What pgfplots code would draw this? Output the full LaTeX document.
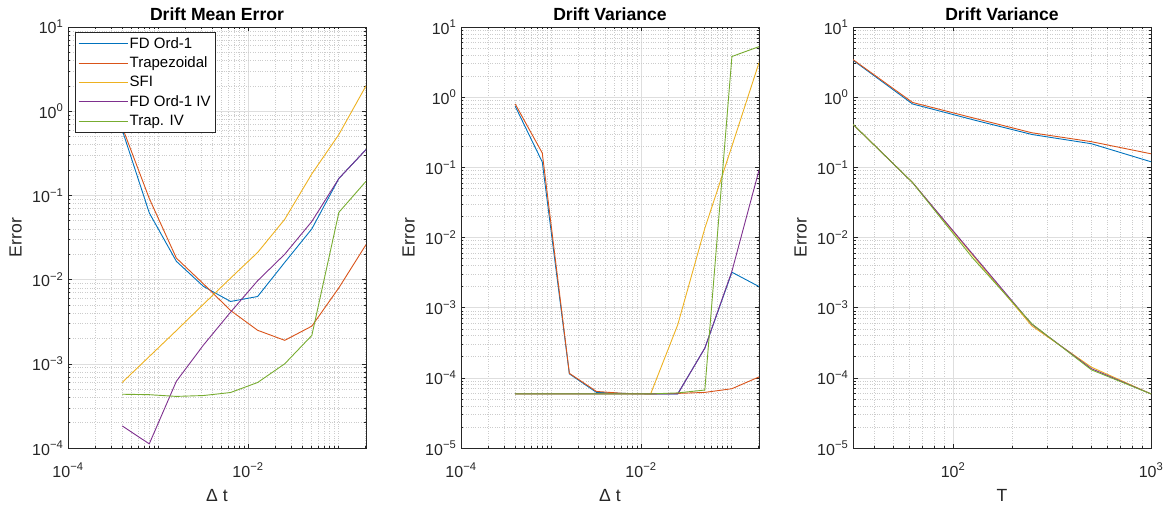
\documentclass[border=0pt]{standalone}
\usepackage{fontspec}
\setmainfont{Liberation Sans}
\usepackage{pgfplots}
\pgfplotsset{compat=1.18}
\definecolor{c1}{rgb}{0,0.447,0.741}
\definecolor{c2}{rgb}{0.85,0.325,0.098}
\definecolor{c3}{rgb}{0.929,0.694,0.125}
\definecolor{c4}{rgb}{0.494,0.184,0.556}
\definecolor{c5}{rgb}{0.466,0.674,0.188}
\definecolor{axc}{rgb}{0.15,0.15,0.15}
\definecolor{gmaj}{rgb}{0.87,0.87,0.87}
\definecolor{gmin}{rgb}{0.80,0.80,0.80}
\newcommand{\tp}[1]{10\textsuperscript{#1}}
\pgfplotsset{
  every axis/.append style={
    scale only axis, width=298pt, height=421pt,
    axis line style={draw=axc, line width=0.5pt},
    tick align=inside, major tick length=4.5pt, minor tick length=2.5pt,
    every tick/.style={draw=axc, line width=0.5pt},
    grid=both,
    major grid style={draw=gmaj, line width=0.5pt},
    minor grid style={draw=gmin, dotted, line width=0.5pt},
    xticklabel style={font=\fontsize{16}{18}\selectfont, text=axc, anchor=base, yshift=-29pt, inner sep=0pt},
    yticklabel style={font=\fontsize{16}{18}\selectfont, text=axc, anchor=base east, xshift=-4.5pt, yshift=-7pt, inner sep=0pt},
    xlabel style={font=\fontsize{17.6}{20}\selectfont, text=axc, at={(axis description cs:0.5,0)}, anchor=base, yshift=-53.5pt},
    ylabel style={font=\fontsize{17.6}{20}\selectfont, text=axc, at={(axis description cs:-0.176,0.5)}, anchor=center},
    title style={font=\bfseries\fontsize{17.6}{20}\selectfont, at={(axis description cs:0.5,1)}, anchor=base, yshift=0.5pt},
    ylabel={Error},
  },
  every axis plot/.append style={line width=0.9pt, mark=none},
  limg/.style={legend image code/.code={\draw[draw=#1, line width=1pt] (0pt,0pt) -- (49pt,0pt);}},
}
\begin{document}
\begin{tikzpicture}
\useasboundingbox (0,0) rectangle (1172pt,506pt);
% ---------- Plot 1 ----------
\begin{loglogaxis}[at={(68pt,58pt)}, anchor=south west,
  xmin=1e-4, xmax=0.2048,
  xtick={1e-4,1e-2}, xticklabels={\tp{−4},\tp{−2}},
  minor xtick={2e-4,3e-4,4e-4,5e-4,6e-4,7e-4,8e-4,9e-4,1e-3,2e-3,3e-3,4e-3,5e-3,6e-3,7e-3,8e-3,9e-3,2e-2,3e-2,4e-2,5e-2,6e-2,7e-2,8e-2,9e-2,1e-1,2e-1},
  xlabel={Δ t},
  ymin=1e-4, ymax=10,
  ytick={1e-4,1e-3,1e-2,1e-1,1,10},
  yticklabels={\tp{−4},\tp{−3},\tp{−2},\tp{−1},\tp{0},\tp{1}},
  minor ytick={2e-4,3e-4,4e-4,5e-4,6e-4,7e-4,8e-4,9e-4,2e-3,3e-3,4e-3,5e-3,6e-3,7e-3,8e-3,9e-3,2e-2,3e-2,4e-2,5e-2,6e-2,7e-2,8e-2,9e-2,2e-1,3e-1,4e-1,5e-1,6e-1,7e-1,8e-1,9e-1,2,3,4,5,6,7,8,9},
  title={Drift Mean Error},
  legend style={at={(0.0235,0.988)}, anchor=north west, draw=axc, fill=white,
    font=\fontsize{15}{17}\selectfont, inner xsep=3pt, inner ysep=3.5pt, row sep=4.2pt,
    nodes={inner sep=1.5pt}, cells={anchor=west}},
]
\addplot[c1, forget plot] coordinates {(0.0004,0.60) (0.0008,0.062) (0.0016,0.0165) (0.0032,0.0083) (0.0064,0.0055) (0.0128,0.0063) (0.0256,0.016) (0.0512,0.040) (0.1024,0.159) (0.2048,0.35)};
\addplot[c2, forget plot] coordinates {(0.0004,0.65) (0.0008,0.092) (0.0016,0.018) (0.0032,0.0089) (0.0064,0.0043) (0.0128,0.0025) (0.0256,0.0019) (0.0512,0.0028) (0.1024,0.0080) (0.2048,0.026)};
\addplot[c3, forget plot] coordinates {(0.0004,0.0006) (0.0008,0.00122) (0.0016,0.00248) (0.0032,0.0051) (0.0064,0.0104) (0.0128,0.021) (0.0256,0.052) (0.0512,0.18) (0.1024,0.53) (0.2048,2.0)};
\addplot[c4, forget plot] coordinates {(0.0004,0.000183) (0.0008,0.000112) (0.0016,0.00062) (0.0032,0.00167) (0.0064,0.0041) (0.0128,0.0097) (0.0256,0.020) (0.0512,0.049) (0.1024,0.159) (0.2048,0.35)};
\addplot[c5, forget plot] coordinates {(0.0004,0.000435) (0.0008,0.00043) (0.0016,0.00041) (0.0032,0.00042) (0.0064,0.000456) (0.0128,0.0006) (0.0256,0.001) (0.0512,0.00217) (0.1024,0.063) (0.2048,0.147)};
\addlegendimage{limg=c1}
\addlegendentry{FD Ord-1}
\addlegendimage{limg=c2}
\addlegendentry{Trapezoidal}
\addlegendimage{limg=c3}
\addlegendentry{SFI}
\addlegendimage{limg=c4}
\addlegendentry{FD Ord-1 IV}
\addlegendimage{limg=c5}
\addlegendentry{Trap. IV}
\end{loglogaxis}
% ---------- Plot 2 ----------
\begin{loglogaxis}[at={(461pt,58pt)}, anchor=south west,
  xmin=1e-4, xmax=0.2048,
  xtick={1e-4,1e-2}, xticklabels={\tp{−4},\tp{−2}},
  minor xtick={2e-4,3e-4,4e-4,5e-4,6e-4,7e-4,8e-4,9e-4,1e-3,2e-3,3e-3,4e-3,5e-3,6e-3,7e-3,8e-3,9e-3,2e-2,3e-2,4e-2,5e-2,6e-2,7e-2,8e-2,9e-2,1e-1,2e-1},
  xlabel={Δ t},
  ymin=1e-5, ymax=10,
  ytick={1e-5,1e-4,1e-3,1e-2,1e-1,1,10},
  yticklabels={\tp{−5},\tp{−4},\tp{−3},\tp{−2},\tp{−1},\tp{0},\tp{1}},
  minor ytick={2e-5,3e-5,4e-5,5e-5,6e-5,7e-5,8e-5,9e-5,2e-4,3e-4,4e-4,5e-4,6e-4,7e-4,8e-4,9e-4,2e-3,3e-3,4e-3,5e-3,6e-3,7e-3,8e-3,9e-3,2e-2,3e-2,4e-2,5e-2,6e-2,7e-2,8e-2,9e-2,2e-1,3e-1,4e-1,5e-1,6e-1,7e-1,8e-1,9e-1,2,3,4,5,6,7,8,9},
  title={Drift Variance},
]
\addplot[c1] coordinates {(0.0004,0.745) (0.0008,0.119) (0.0016,0.000114) (0.0032,6.2e-5) (0.0064,6.0e-5) (0.0128,5.9e-5) (0.0256,5.9e-5) (0.0512,2.65e-4) (0.1024,3.2e-3) (0.2048,2.0e-3)};
\addplot[c2] coordinates {(0.0004,0.80) (0.0008,0.16) (0.0016,0.000116) (0.0032,6.4e-5) (0.0064,6.0e-5) (0.0128,5.9e-5) (0.0256,6.0e-5) (0.0512,6.2e-5) (0.1024,7.0e-5) (0.2048,1.03e-4)};
\addplot[c3] coordinates {(0.0004,5.9e-5) (0.0008,5.9e-5) (0.0016,5.9e-5) (0.0032,5.9e-5) (0.0064,5.9e-5) (0.0128,5.9e-5) (0.0256,5.7e-4) (0.0512,0.0135) (0.1024,0.2) (0.2048,3.1)};
\addplot[c4] coordinates {(0.0004,5.9e-5) (0.0008,5.9e-5) (0.0016,5.9e-5) (0.0032,5.9e-5) (0.0064,5.9e-5) (0.0128,5.9e-5) (0.0256,5.9e-5) (0.0512,2.65e-4) (0.1024,3.3e-3) (0.2048,0.091)};
\addplot[c5] coordinates {(0.0004,5.9e-5) (0.0008,5.9e-5) (0.0016,5.9e-5) (0.0032,5.9e-5) (0.0064,5.9e-5) (0.0128,5.9e-5) (0.0256,6.1e-5) (0.0512,6.7e-5) (0.1024,3.8) (0.2048,5.25)};
\end{loglogaxis}
% ---------- Plot 3 ----------
\begin{loglogaxis}[at={(853pt,58pt)}, anchor=south west,
  xmin=31.25, xmax=1000,
  xtick={100,1000}, xticklabels={\tp{2},\tp{3}},
  minor xtick={40,50,60,70,80,90,200,300,400,500,600,700,800,900},
  xlabel={T},
  ymin=1e-5, ymax=10,
  ytick={1e-5,1e-4,1e-3,1e-2,1e-1,1,10},
  yticklabels={\tp{−5},\tp{−4},\tp{−3},\tp{−2},\tp{−1},\tp{0},\tp{1}},
  minor ytick={2e-5,3e-5,4e-5,5e-5,6e-5,7e-5,8e-5,9e-5,2e-4,3e-4,4e-4,5e-4,6e-4,7e-4,8e-4,9e-4,2e-3,3e-3,4e-3,5e-3,6e-3,7e-3,8e-3,9e-3,2e-2,3e-2,4e-2,5e-2,6e-2,7e-2,8e-2,9e-2,2e-1,3e-1,4e-1,5e-1,6e-1,7e-1,8e-1,9e-1,2,3,4,5,6,7,8,9},
  title={Drift Variance},
]
\addplot[c1] coordinates {(31.25,3.36) (62.5,0.80) (125,0.48) (250,0.294) (500,0.217) (1000,0.12)};
\addplot[c2] coordinates {(31.25,3.43) (62.5,0.84) (125,0.51) (250,0.311) (500,0.232) (1000,0.156)};
\addplot[c3] coordinates {(31.25,0.41) (62.5,0.0605) (125,0.0057) (250,5.5e-4) (500,1.42e-4) (1000,5.9e-5)};
\addplot[c4] coordinates {(31.25,0.41) (62.5,0.0605) (125,0.0059) (250,5.8e-4) (500,1.35e-4) (1000,5.9e-5)};
\addplot[c5] coordinates {(31.25,0.41) (62.5,0.0605) (125,0.0052) (250,5.9e-4) (500,1.30e-4) (1000,5.9e-5)};
\end{loglogaxis}
\end{tikzpicture}
\end{document}
